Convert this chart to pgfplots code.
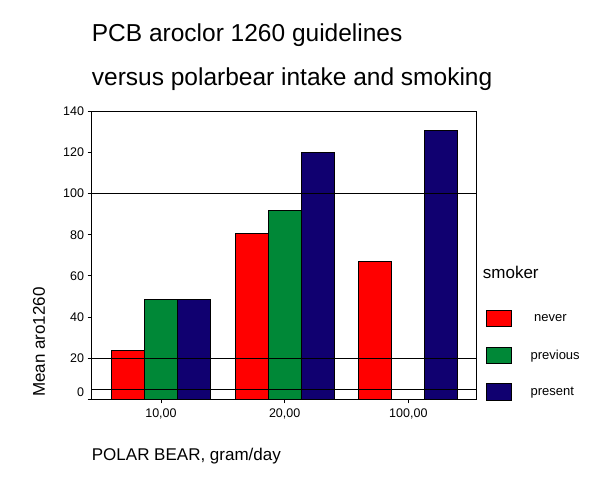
\documentclass[border=0pt]{standalone}
\usepackage{fontspec}
\setmainfont{Liberation Sans}
\usepackage{pgfplots}
\pgfplotsset{compat=1.18}
\definecolor{never}{RGB}{255,0,0}
\definecolor{previous}{RGB}{0,136,55}
\definecolor{present}{RGB}{16,0,112}

\begin{document}
\begin{tikzpicture}
\path[use as bounding box] (0pt,0pt) rectangle (594pt,-478pt);

% titles and labels
\node[anchor=base west, inner sep=0pt, font=\fontsize{24.5}{28}\selectfont] at (91.7pt,-41.7pt) {PCB aroclor 1260 guidelines};
\node[anchor=base west, inner sep=0pt, font=\fontsize{24.5}{28}\selectfont] at (91.7pt,-86pt) {versus polarbear intake and smoking};
\node[anchor=base west, inner sep=0pt, font=\fontsize{17}{20}\selectfont] at (91.7pt,-460.7pt) {POLAR BEAR, gram/day};
\node[rotate=90, inner sep=0pt, font=\fontsize{17}{20}\selectfont] at (39pt,-342pt) {Mean aro1260};
\node[anchor=west, inner sep=0pt, font=\fontsize{17}{20}\selectfont] at (482.7pt,-272pt) {smoker};

\begin{axis}[
    at={(91.7pt,-399.3pt)}, anchor=south west,
    scale only axis,
    width=384.3pt, height=288pt,
    xmin=-0.56, xmax=2.547,
    ymin=0, ymax=140,
    xtick={0,1,2},
    xticklabels={{10,00},{20,00},{100,00}},
    ytick={20,40,...,140},
    extra y ticks={0},
    extra y tick style={yticklabel style={yshift=7.5pt}},
    tick align=outside,
    xtick pos=bottom, ytick pos=left,
    major tick length=4pt,
    axis line style={line width=1pt},
    every tick/.style={black, line width=0.8pt},
    tick label style={font=\fontsize{12.5}{14}\selectfont, inner sep=0pt},
    yticklabel style={xshift=-3.4pt},
    xticklabel style={yshift=-5pt},
    /pgf/number format/assume math mode=true,
    legend style={at={(axis description cs:1.026,0.312)}, anchor=north west,
        draw=none, fill=none, inner sep=0pt, row sep=19.5pt,
        font=\fontsize{13}{15}\selectfont,
        nodes={inner sep=0pt}},
    legend cell align=left,
    legend image code/.code={
        \draw[#1, draw=black, line width=0.8pt] (0pt,-8.3pt) rectangle (25pt,8.3pt);
        \path[draw=none, fill=none] (25pt,0pt) -- (44pt,0pt);
    },
]
\addplot[ybar, bar width=33pt, bar shift=-33pt, fill=never, draw=black, line width=0.8pt]
    coordinates {(0,23.8) (1,80.8) (2,67.2)};
\addlegendentry{\hspace{3.5pt}never}
\addplot[ybar, bar width=33pt, bar shift=0pt, fill=previous, draw=black, line width=0.8pt]
    coordinates {(0,48.7) (1,91.9)};
\addlegendentry{previous}
\addplot[ybar, bar width=33pt, bar shift=33pt, fill=present, draw=black, line width=0.8pt]
    coordinates {(0,48.7) (1,120.0) (2,130.6)};
\addlegendentry{present}

% guideline levels
\addplot[black, line width=1pt, forget plot] coordinates {(-0.56,100) (2.547,100)};
\addplot[black, line width=1pt, forget plot] coordinates {(-0.56,20) (2.547,20)};
\addplot[black, line width=1pt, forget plot] coordinates {(-0.56,5) (2.547,5)};
\end{axis}
\end{tikzpicture}
\end{document}
